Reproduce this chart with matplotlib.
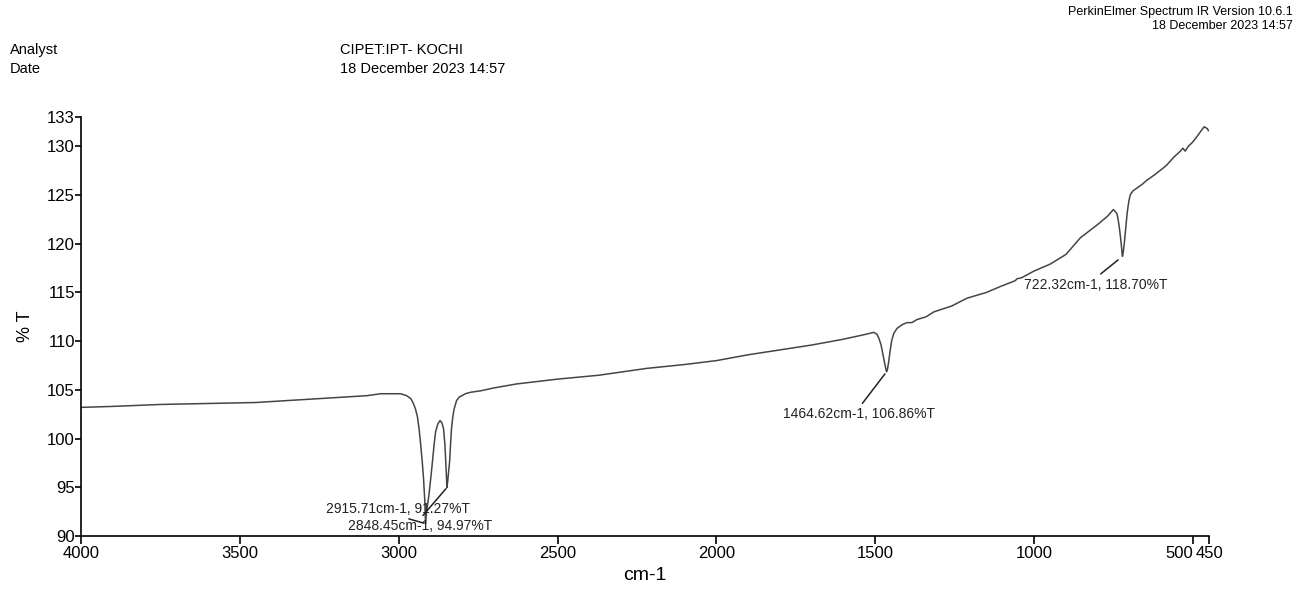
import matplotlib
matplotlib.use("Agg")
import matplotlib.pyplot as plt

plt.rcParams['font.family'] = ['Liberation Sans', 'DejaVu Sans']

# spectrum (wavenumber cm-1, %T)
wavenumber = [4000, 3900, 3750, 3600, 3450, 3300, 3200, 3100, 3057, 2994, 2975,
              2962, 2954, 2947, 2941, 2936, 2931, 2926, 2922, 2918, 2915.71, 2912,
              2905, 2899, 2894, 2888, 2884, 2877, 2870, 2864, 2859, 2855, 2852,
              2849.5, 2848.45, 2846, 2843, 2840, 2837, 2834, 2830, 2826, 2818, 2810,
              2790, 2774, 2742, 2700, 2630, 2500, 2370, 2220, 2100, 2000, 1900, 1800,
              1700, 1600, 1530, 1505, 1495, 1489, 1482, 1476, 1470, 1466, 1464.62,
              1462, 1458, 1454, 1449, 1442, 1432, 1415, 1400, 1385, 1370, 1340, 1316,
              1260, 1212, 1150, 1107, 1060, 1054, 1040, 1000, 950, 900, 855, 803,
              770, 751, 745, 740, 736, 732, 729, 726, 723.5, 722.32, 720, 717, 714,
              710, 707, 702, 698, 690, 677, 660, 646, 620, 585, 560, 540, 532, 525,
              515, 502, 490, 481, 470, 465, 460, 455, 452]
transmittance = [103.2, 103.3, 103.5, 103.6, 103.7, 104.0, 104.2, 104.4, 104.6, 104.6, 104.4,
                 104.1, 103.6, 103.0, 102.2, 101.0, 99.4, 97.6, 95.9, 93.6, 91.27, 92.6,
                 94.2, 96.0, 97.6, 99.6, 100.7, 101.5, 101.85, 101.6, 101.0, 99.5, 97.6,
                 95.8, 94.97, 95.6, 96.6, 97.6, 99.4, 101.0, 102.2, 103.0, 103.9, 104.25,
                 104.6, 104.75, 104.9, 105.2, 105.6, 106.1, 106.5, 107.2, 107.6, 108.0, 108.6, 109.1,
                 109.6, 110.2, 110.7, 110.9, 110.7, 110.3, 109.6, 108.6, 107.6, 107.0, 106.86,
                 107.1, 107.9, 108.9, 110.0, 110.8, 111.3, 111.7, 111.9, 111.9, 112.2, 112.5, 113.0,
                 113.6, 114.4, 115.0, 115.6, 116.2, 116.4, 116.5, 117.2, 117.9, 118.9, 120.6, 121.9,
                 122.8, 123.5, 123.3, 123.1, 122.5, 121.6, 120.8, 119.9, 119.0, 118.70, 119.1, 119.9, 120.9,
                 122.3, 123.3, 124.4, 125.0, 125.4, 125.7, 126.1, 126.5, 127.1, 128.0, 128.9, 129.5, 129.8, 129.5,
                 130.0, 130.4, 130.9, 131.3, 131.8, 132.0, 131.9, 131.8, 131.6]

peak_wn = [2915.71, 2848.45, 1464.62, 722.32]
peak_t = [91.27, 94.97, 106.86, 118.70]

xticks = [4000, 3500, 3000, 2500, 2000, 1500, 1000, 500, 450]
yticks = [90, 95, 100, 105, 110, 115, 120, 125, 130, 133]

# where each peak label sits (data coords) and which side the leader meets
label_pos = [(3003, 92.8), (2934, 91.0), (1550, 102.5), (805, 115.8)]
label_rel = [(0.5, 0.0), (0.5, 1.0), (0.5, 1.0), (0.5, 1.0)]
label_gap = [1, 1, 2, 4]

fig = plt.figure(figsize=(12.96, 5.89), dpi=100)
ax = fig.add_axes([81/1296, 1 - 536/589, (1209 - 81)/1296, (536 - 117)/589])

ax.plot(wavenumber, transmittance, color='#454545', lw=1.1)

ax.set_xlim(4000, 450)
ax.set_ylim(90, 133)
ax.set_xticks(xticks)
ax.set_yticks(yticks)
ax.set_xticklabels([str(t) for t in xticks])
ax.tick_params(axis='x', direction='out', length=6, width=1.2, pad=1.5, labelsize=12)
ax.tick_params(axis='y', direction='out', length=4, width=1.2, pad=0.5, labelsize=12)
for lab in ax.get_xticklabels():
    if lab.get_text() == '500':
        lab.set_horizontalalignment('right')

for s in ['top', 'right']:
    ax.spines[s].set_visible(False)
for s in ['left', 'bottom']:
    ax.spines[s].set_linewidth(1.2)

ax.set_xlabel('cm-1', fontsize=14, labelpad=4)
ax.set_ylabel('% T', fontsize=13, labelpad=9)

for wn, t, pos, rel, gap in zip(peak_wn, peak_t, label_pos, label_rel, label_gap):
    ax.annotate(f'{wn:.2f}cm-1, {t:.2f}%T', xy=(wn, t), xytext=pos,
                ha='center', va='center', fontsize=10, color='#222222',
                arrowprops=dict(arrowstyle='-', color='#222222', lw=1.1,
                                relpos=rel, shrinkA=1, shrinkB=gap))

# header text
fig.text(10/1296, 1 - 50/589, 'Analyst', fontsize=10.5, va='center')
fig.text(10/1296, 1 - 69/589, 'Date', fontsize=10.5, va='center')
fig.text(340/1296, 1 - 50/589, 'CIPET:IPT- KOCHI', fontsize=10.5, va='center')
fig.text(340/1296, 1 - 69/589, '18 December 2023 14:57', fontsize=10.5, va='center')
fig.text(1293/1296, 1 - 12/589, 'PerkinElmer Spectrum IR Version 10.6.1', fontsize=9, ha='right', va='center')
fig.text(1293/1296, 1 - 26/589, '18 December 2023 14:57', fontsize=9, ha='right', va='center')

fig.savefig('out.png', dpi=100)
